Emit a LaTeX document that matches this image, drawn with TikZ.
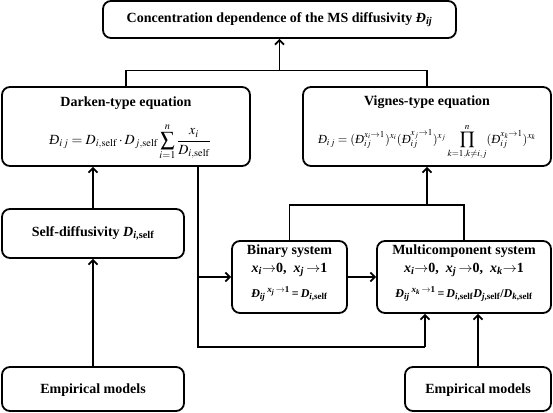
\documentclass[tikz,border=0pt]{standalone}
\usepackage{amsmath}
\usepackage{mathptmx}
\usepackage{fontspec}
\setmainfont{Liberation Serif}
\usetikzlibrary{arrows.meta}
\newcommand{\DDx}{\text{\itshape Đ}}
\tikzset{
  boxnode/.style={draw, line width=1.8pt, rounded corners=8pt, inner sep=0pt},
  txt/.style={font=\fontsize{14}{16}\selectfont\bfseries, inner sep=0pt, align=center},
  eqn/.style={font=\fontsize{14}{16}\selectfont, inner sep=0pt},
  small/.style={font=\fontsize{12}{14}\selectfont\bfseries, inner sep=0pt},
  conn/.style={line width=1.8pt},
  arr/.style={line width=1.8pt, -{Straight Barb[length=4.5pt,width=9pt,line width=1.8pt]}}
}
\begin{document}
\begin{tikzpicture}[x=1pt,y=-1pt]
\useasboundingbox (0,0) rectangle (553,412);
% boxes
\node[boxnode, minimum width=353pt, minimum height=37pt] (top) at (279.5,19.5) {};
\node[boxnode, minimum width=248pt, minimum height=79pt] (darken) at (126,126.5) {};
\node[boxnode, minimum width=248pt, minimum height=79pt] (vignes) at (427,126.5) {};
\node[boxnode, minimum width=182pt, minimum height=49pt] (selfd) at (93,233.5) {};
\node[boxnode, minimum width=115pt, minimum height=72pt] (binary) at (289.5,277) {};
\node[boxnode, minimum width=174pt, minimum height=72pt] (multi) at (464,277) {};
\node[boxnode, minimum width=182pt, minimum height=44pt] (empL) at (93,389) {};
\node[boxnode, minimum width=146pt, minimum height=44pt] (empR) at (478,389) {};
% texts
\node[txt] (ttop) at (279.5,19.5) {Concentration dependence of the MS diffusivity \textit{Đ}\textsubscript{\textit{ij}}};
\node[txt] (tdark) at (126,103) {Darken-type equation};
\node[eqn] (edark) at (130,142) {$\displaystyle \DDx_{i\,j} = D_{i,\mathrm{self}}\cdot D_{j,\mathrm{self}}\sum_{i=1}^{n}\frac{x_i}{D_{i,\mathrm{self}}}$};
\node[txt] (tvig) at (427,102) {Vignes-type equation};
\node[eqn, font=\fontsize{12.4}{14}\selectfont] (evig) at (427,142) {$\displaystyle \DDx_{i\,j} = (\DDx_{ij}^{x_i\to1})^{x_i}(\DDx_{ij}^{x_j\to1})^{x_j}\prod_{k=1,k\neq i,j}^{n}(\DDx_{ij}^{x_k\to1})^{x_k}$};
\node[txt] (tself) at (93,233.5) {Self-diffusivity \textit{D}\textsubscript{\textit{i},self}};
\node[txt] (tbin1) at (289.5,251) {Binary system};
\node[txt] (tbin2) at (289.5,270) {\textit{x}\textsubscript{\textit{i}}$\to$0,\ \ \textit{x}\textsubscript{\textit{j}}\,$\to$1};
\node[small] (tbin3) at (289.5,294) {\textit{Đ}\textsubscript{\textit{ij}}\,\textsuperscript{\textit{x}\textsubscript{\textit{j}}\,$\to$1}\,=\,\textit{D}\textsubscript{\textit{i},self}};
\node[txt] (tmul1) at (464,251) {Multicomponent system};
\node[txt] (tmul2) at (464,270) {\textit{x}\textsubscript{\textit{i}}$\to$0,\ \ \textit{x}\textsubscript{\textit{j}}\,$\to$0,\ \ \textit{x}\textsubscript{\textit{k}}$\to$1};
\node[small] (tmul3) at (464,294) {\textit{Đ}\textsubscript{\textit{ij}}\,\textsuperscript{\textit{x}\textsubscript{\textit{k}}\,$\to$1}\,=\,\textit{D}\textsubscript{\textit{i},self}\textit{D}\textsubscript{\textit{j},self}/\textit{D}\textsubscript{\textit{k},self}};
\node[txt] (tempL) at (93,390) {Empirical models};
\node[txt] (tempR) at (478,390) {Empirical models};
% connectors
\coordinate (bar1) at (279.5,70.5);
\draw[conn] (darken.north) |- (bar1) -| (vignes.north);
\draw[arr] (bar1) -- (top.south);
\coordinate (bar2) at (427,205);
\draw[conn] (binary.north) |- (bar2) -| (multi.north);
\draw[arr] (bar2) -- (vignes.south);
\draw[arr] (selfd.north) -- (selfd.north |- darken.south);
\draw[arr] (empL.north) -- (empL.north |- selfd.south);
\coordinate (c1) at (198,347);
\coordinate (c2) at (425,347);
\draw[conn] (darken.south -| c1) -- (c1) -- (c2);
\draw[arr] (c2) -- (c2 |- multi.south);
\draw[arr] (c1 |- binary.west) -- (binary.west);
\draw[arr] (binary.east) -- (multi.west);
\draw[arr] (empR.north) -- (empR.north |- multi.south);
\end{tikzpicture}
\end{document}
